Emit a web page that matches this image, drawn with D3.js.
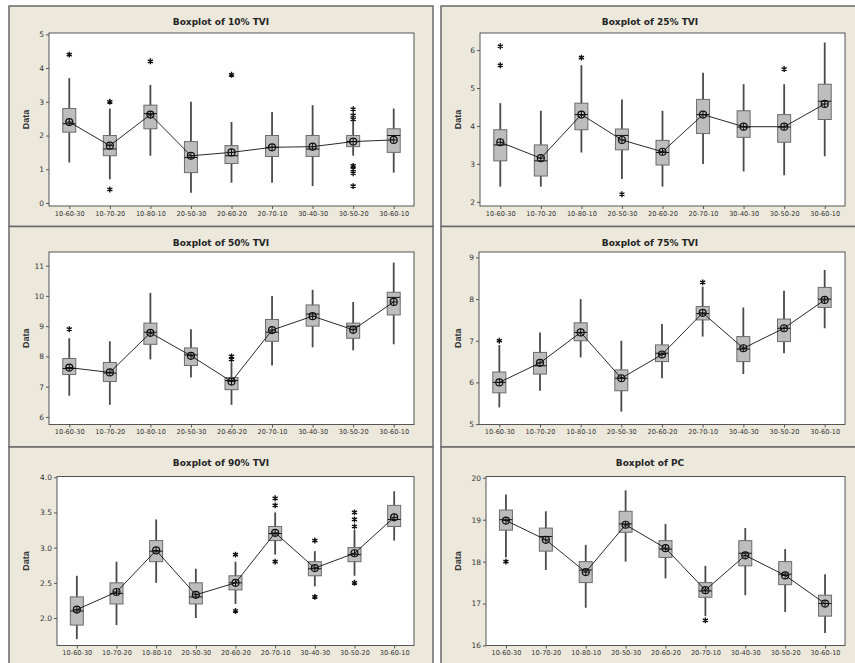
<!DOCTYPE html>
<html>
<head>
<meta charset="utf-8">
<script src="https://cdn.jsdelivr.net/npm/d3@7"></script>
<style>
  body { margin: 0; background: #fff; }
  svg { display: block; }
  .axis { opacity: 0.99; }
</style>
</head>
<body>
<div id="graph"></div>
<script>
var categories = ["10-60-30", "10-70-20", "10-80-10", "20-50-30", "20-60-20", "20-70-10", "30-40-30", "30-50-20", "30-60-10"]

// [low whisker, Q1, median, Q3, high whisker] per category
var tvi10Stats = [[1.2,2.1,2.35,2.8,3.7],[0.7,1.4,1.6,2.0,2.8],[1.4,2.2,2.65,2.9,3.5],[0.3,0.9,1.35,1.82,3.0],[0.6,1.17,1.4,1.7,2.4],[0.6,1.38,1.65,2.0,2.7],[0.5,1.38,1.6,2.0,2.9],[1.4,1.67,1.82,2.0,2.4],[0.9,1.5,2.0,2.2,2.8]]
var tvi10Means = [2.4,1.7,2.62,1.4,1.5,1.65,1.67,1.82,1.87]
var tvi10Outliers = [[4.4],[3.0,0.4],[4.2],[],[3.8],[],[],[2.78,2.6,2.48,1.1,1.0,0.88,0.5],[]]

var tvi25Stats = [[2.4,3.08,3.5,3.9,4.6],[2.4,2.68,3.08,3.5,4.4],[3.3,3.9,4.3,4.6,5.6],[2.6,3.37,3.75,3.92,4.7],[2.4,2.97,3.3,3.62,4.4],[3.0,3.8,4.3,4.7,5.4],[2.8,3.7,3.97,4.4,5.1],[2.7,3.57,3.97,4.3,5.1],[3.2,4.17,4.65,5.1,6.2]]
var tvi25Means = [3.57,3.15,4.3,3.63,3.32,4.3,3.98,3.98,4.58]
var tvi25Outliers = [[6.1,5.6],[],[5.8],[2.2],[],[],[],[5.5],[]]

var tvi50Stats = [[6.7,7.4,7.6,7.93,8.6],[6.4,7.17,7.45,7.8,8.5],[7.9,8.4,8.8,9.1,10.1],[7.3,7.7,8.05,8.28,8.9],[6.4,6.9,7.2,7.3,7.8],[7.7,8.5,8.8,9.22,10.0],[8.3,9.0,9.4,9.7,10.2],[8.2,8.6,9.0,9.1,9.8],[8.4,9.37,9.95,10.12,11.1]]
var tvi50Means = [7.63,7.47,8.78,8.02,7.17,8.87,9.33,8.88,9.8]
var tvi50Outliers = [[8.9],[],[],[],[8.0,7.9],[],[],[],[]]

var tvi75Stats = [[5.4,5.75,6.0,6.25,6.9],[5.8,6.2,6.4,6.72,7.2],[6.6,7.0,7.2,7.43,8.0],[5.3,5.8,6.1,6.3,7.0],[6.1,6.5,6.7,6.9,7.4],[7.1,7.5,7.65,7.82,8.3],[6.2,6.5,6.8,7.1,7.8],[6.7,6.98,7.3,7.52,8.2],[7.3,7.8,8.0,8.28,8.7]]
var tvi75Means = [6.0,6.47,7.2,6.1,6.67,7.67,6.82,7.3,7.98]
var tvi75Outliers = [[7.0],[],[],[],[],[8.4],[],[],[]]

var tvi90Stats = [[1.7,1.9,2.1,2.3,2.6],[1.9,2.2,2.35,2.5,2.8],[2.5,2.8,2.95,3.1,3.4],[2.0,2.2,2.3,2.5,2.7],[2.2,2.4,2.5,2.6,2.8],[2.9,3.1,3.2,3.3,3.5],[2.45,2.6,2.7,2.8,2.95],[2.6,2.8,2.9,3.0,3.25],[3.1,3.3,3.4,3.6,3.8]]
var tvi90Means = [2.12,2.37,2.96,2.33,2.5,3.21,2.71,2.92,3.43]
var tvi90Outliers = [[],[],[],[],[2.9,2.1],[3.7,3.6,2.8],[3.1,2.3],[3.5,3.4,3.3,2.5],[]]

var pcStats = [[18.1,18.75,19.0,19.23,19.6],[17.8,18.25,18.6,18.8,19.2],[16.9,17.5,17.8,18.0,18.4],[18.0,18.7,18.9,19.2,19.7],[17.6,18.1,18.3,18.5,18.9],[16.7,17.15,17.3,17.5,17.9],[17.2,17.9,18.2,18.5,18.8],[16.8,17.45,17.7,18.0,18.3],[16.3,16.7,17.0,17.2,17.7]]
var pcMeans = [18.98,18.52,17.75,18.88,18.32,17.32,18.15,17.67,17.0]
var pcOutliers = [[18.0],[],[],[],[],[16.6],[],[],[]]

var titles = ["Boxplot of 10% TVI", "Boxplot of 25% TVI", "Boxplot of 50% TVI", "Boxplot of 75% TVI", "Boxplot of 90% TVI", "Boxplot of PC"]
var yTicks = [[0,1,2,3,4,5], [2,3,4,5,6], [6,7,8,9,10,11], [5,6,7,8,9], [2.0,2.5,3.0,3.5,4.0], [16,17,18,19,20]]
var yDomains = [[-0.09,5.04], [1.89,6.45], [5.75,11.45], [4.99,9.13], [1.61,4.01], [16,20.03]]
var yFormats = ["d", "d", "d", "d", ".1f", "d"]

var panels = [
    {stats: tvi10Stats, means: tvi10Means, outliers: tvi10Outliers},
    {stats: tvi25Stats, means: tvi25Means, outliers: tvi25Outliers},
    {stats: tvi50Stats, means: tvi50Means, outliers: tvi50Outliers},
    {stats: tvi75Stats, means: tvi75Means, outliers: tvi75Outliers},
    {stats: tvi90Stats, means: tvi90Means, outliers: tvi90Outliers},
    {stats: pcStats, means: pcMeans, outliers: pcOutliers}
]

// layout of the 3 x 2 grid of panels
var width = 855, height = 663
var colX = [9, 441], colW = [424, 418]
var rowY = [6, 226.5, 447], rowH = [220.5, 220.5, 225]
var plotTop = [27, 25.5, 29.5], plotBottom = [200, 198, 198.5]
var plotLeft = [40, 39, 40, 38, 48, 45]
var plotRight = [405, 404]

var bg = "#ece9dc"
var font = "'DejaVu Sans', Verdana, sans-serif"

var svg = d3.select("#graph").append("svg")
    .attr("width", width).attr("height", height)
    .style("font-family", font)

svg.append("rect").attr("width", width).attr("height", height).attr("fill", "#fff")

panels.forEach(function(p, i) {
    var col = i % 2, row = Math.floor(i / 2)
    var fx = colX[col], fy = rowY[row]
    var g = svg.append("g").attr("transform", "translate(" + [fx, fy] + ")")

    g.append("rect")
        .attr("width", colW[col]).attr("height", rowH[row])
        .attr("fill", bg).attr("stroke", "#6a6a6a").attr("stroke-width", 1.5)

    var left = plotLeft[i], right = plotRight[col]
    var top = plotTop[row], bottom = plotBottom[row]

    var x = d3.scalePoint().domain(categories).range([left, right]).padding(0.5)
    var y = d3.scaleLinear().domain(yDomains[i]).range([bottom, top])

    g.append("rect")
        .attr("x", left).attr("y", top)
        .attr("width", right - left).attr("height", bottom - top)
        .attr("fill", "#fff")

    // axes
    var yAxis = g.append("g").attr("class", "axis").attr("transform", "translate(" + left + ",0)")
        .call(d3.axisLeft(y).tickValues(yTicks[i]).tickFormat(d3.format(yFormats[i])).tickSize(3).tickPadding(2))
    var xAxis = g.append("g").attr("class", "axis").attr("transform", "translate(0," + bottom + ")")
        .call(d3.axisBottom(x).tickSize(3).tickPadding(2))
    ;[yAxis, xAxis].forEach(function(a) {
        a.select(".domain").remove()
        a.selectAll("line").attr("stroke", "#555")
        a.selectAll("text").attr("fill", "#333").style("font-family", font)
    })
    yAxis.selectAll("text").style("font-size", "7.5px")
    xAxis.selectAll("text").style("font-size", "6.6px")

    g.append("rect")
        .attr("x", left).attr("y", top)
        .attr("width", right - left).attr("height", bottom - top)
        .attr("fill", "none").attr("stroke", "#555").attr("stroke-width", 1)

    // titles
    g.append("text")
        .attr("class", "axis")
        .attr("x", colW[col] / 2).attr("y", 19)
        .attr("text-anchor", "middle")
        .attr("font-size", "9px").attr("font-weight", "bold").attr("fill", "#222")
        .text(titles[i])

    g.append("text")
        .attr("class", "axis")
        .attr("transform", "translate(" + [20, (top + bottom) / 2] + ") rotate(-90)")
        .attr("text-anchor", "middle")
        .style("font-family", "'Liberation Sans Narrow', 'Liberation Sans', Arial, sans-serif")
        .attr("font-size", "9px").attr("font-weight", "bold").attr("fill", "#333")
        .text("Data")

    var boxW = 13
    var boxes = g.append("g").selectAll("g")
        .data(p.stats)
        .enter().append("g")
        .attr("transform", function(d, j) { return "translate(" + x(categories[j]) + ",0)" })

    boxes.append("line")
        .attr("y1", function(d) { return y(d[0]) })
        .attr("y2", function(d) { return y(d[4]) })
        .attr("stroke", "#4a4a4a").attr("stroke-width", 1.8)

    boxes.append("rect")
        .attr("x", -boxW / 2)
        .attr("y", function(d) { return y(d[3]) })
        .attr("width", boxW)
        .attr("height", function(d) { return y(d[1]) - y(d[3]) })
        .attr("fill", "#bdbdbd").attr("stroke", "#6b6b6b").attr("stroke-width", 1)

    boxes.append("line")
        .attr("x1", -boxW / 2).attr("x2", boxW / 2)
        .attr("y1", function(d) { return y(d[2]) })
        .attr("y2", function(d) { return y(d[2]) })
        .attr("stroke", "#111").attr("stroke-width", 1)

    // connect line through the means
    var meanLine = d3.line()
        .x(function(d, j) { return x(categories[j]) })
        .y(function(d) { return y(d) })
    g.append("path")
        .datum(p.means)
        .attr("d", meanLine)
        .attr("fill", "none").attr("stroke", "#111").attr("stroke-width", 0.9)

    var r = 3.5
    var mean = g.append("g").selectAll("g")
        .data(p.means)
        .enter().append("g")
        .attr("transform", function(d, j) { return "translate(" + [x(categories[j]), y(d)] + ")" })
    mean.append("circle").attr("r", r).attr("fill", "none").attr("stroke", "#111").attr("stroke-width", 1.2)
    mean.append("path").attr("d", "M" + (-r) + ",0H" + r + "M0," + (-r) + "V" + r)
        .attr("stroke", "#111").attr("stroke-width", 1)

    // outliers
    var pts = []
    p.outliers.forEach(function(list, j) {
        list.forEach(function(v) { pts.push({cat: categories[j], v: v}) })
    })
    g.append("g").selectAll("path")
        .data(pts)
        .enter().append("path")
        .attr("d", d3.symbol(d3.symbolAsterisk, 24))
        .attr("transform", function(d) { return "translate(" + [x(d.cat), y(d.v)] + ")" })
        .attr("fill", "none").attr("stroke", "#111").attr("stroke-width", 1.4)
})
</script>
</body>
</html>
